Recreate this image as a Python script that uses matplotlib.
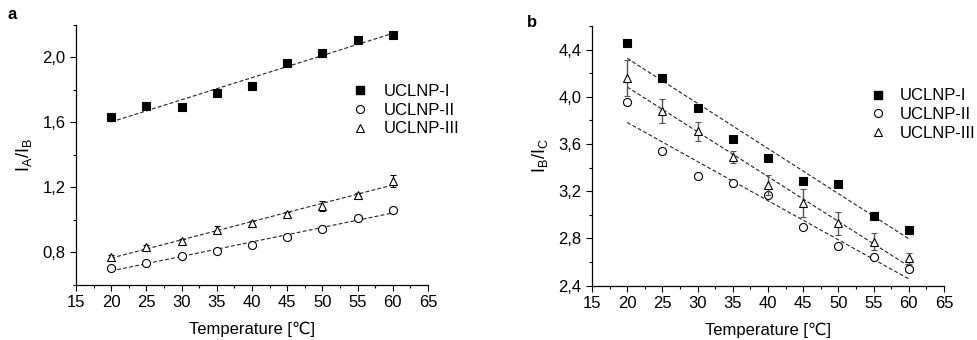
import numpy as np
import matplotlib
matplotlib.use("Agg")
import matplotlib.pyplot as plt
from matplotlib.ticker import MultipleLocator, FuncFormatter
from matplotlib.lines import Line2D

plt.rcParams['font.family'] = ['Liberation Sans', 'DejaVu Sans']
plt.rcParams['mathtext.fontset'] = 'custom'
plt.rcParams['mathtext.rm'] = 'Liberation Sans'
plt.rcParams['mathtext.it'] = 'Liberation Sans'

temps = [20, 25, 30, 35, 40, 45, 50, 55, 60]
labels = ['UCLNP-I', 'UCLNP-II', 'UCLNP-III']

a_I = [1.634, 1.704, 1.694, 1.784, 1.825, 1.967, 2.029, 2.107, 2.140]
a_II = [0.705, 0.734, 0.777, 0.810, 0.845, 0.897, 0.946, 1.012, 1.059]
a_III = [0.775, 0.831, 0.868, 0.940, 0.981, 1.037, 1.084, 1.156, 1.242]
a_III_err = [0.012, 0.015, 0.012, 0.020, 0.010, 0.010, 0.030, 0.010, 0.036]

b_I = [4.454, 4.158, 3.904, 3.645, 3.482, 3.287, 3.262, 2.994, 2.870]
b_II = [3.958, 3.538, 3.332, 3.273, 3.172, 2.893, 2.733, 2.640, 2.540]
b_III = [4.160, 3.879, 3.707, 3.490, 3.250, 3.100, 2.927, 2.772, 2.630]
b_III_err = [0.155, 0.105, 0.080, 0.050, 0.085, 0.117, 0.100, 0.070, 0.050]

fig = plt.figure(figsize=(9.78, 3.4), dpi=100)
axa = fig.add_axes([0.0777, 0.1618, 0.3599, 0.7647])
axb = fig.add_axes([0.6053, 0.160, 0.3599, 0.7635])

comma = FuncFormatter(lambda v, p: f"{v:.1f}".replace('.', ','))

def style(ax, ylim, ymaj, ylabel):
    ax.set_xlim(15, 65)
    ax.set_ylim(*ylim)
    ax.xaxis.set_major_locator(MultipleLocator(5))
    ax.xaxis.set_minor_locator(MultipleLocator(2.5))
    ax.yaxis.set_major_locator(MultipleLocator(ymaj))
    ax.yaxis.set_minor_locator(MultipleLocator(ymaj / 2))
    ax.yaxis.set_major_formatter(comma)
    for s in ['top', 'right']:
        ax.spines[s].set_visible(False)
    for s in ['left', 'bottom']:
        ax.spines[s].set_linewidth(0.9)
    ax.tick_params(which='major', direction='out', length=4, width=0.8, labelsize=12)
    ax.tick_params(which='minor', direction='out', length=2.5, width=0.8)
    ax.set_xlabel('Temperature [\u2103]', fontsize=12, labelpad=8)
    ax.set_ylabel(ylabel, fontsize=13, labelpad=6)

def fit(ax, y):
    t = np.array(temps, dtype=float)
    k, b = np.polyfit(t, y, 1)
    ax.plot(t, k * t + b, ls=(0, (3.5, 2)), color='#222222', lw=0.8, zorder=1)

mk = dict(markersize=5.8, markeredgewidth=0.8, ls='none', zorder=3)

def handles():
    return [Line2D([], [], marker='s', color='black', ls='none', markersize=5.8),
            Line2D([], [], marker='o', mfc='white', mec='black', ls='none',
                   markersize=5.8, markeredgewidth=0.8),
            Line2D([], [], marker='^', mfc='white', mec='black', ls='none',
                   markersize=6.2, markeredgewidth=0.8)]

# panel a
fit(axa, a_I); fit(axa, a_II); fit(axa, a_III)
axa.plot(temps, a_I, 's', color='black', **mk)
axa.plot(temps, a_II, 'o', mfc='white', mec='black', **mk)
axa.errorbar(temps, a_III, yerr=a_III_err, fmt='^', mfc='white', mec='black',
             ecolor='black', elinewidth=0.8, capsize=2.5, capthick=0.8,
             markersize=6.2, markeredgewidth=0.8, zorder=3)
style(axa, (0.6, 2.2), 0.4, r'$\mathrm{I_A/I_B}$')
axa.legend(handles(), labels, loc='upper left', bbox_to_anchor=(0.76, 0.805),
           frameon=False, fontsize=12, handlelength=1.0, handletextpad=0.9,
           labelspacing=0.22, borderpad=0, numpoints=1)

# panel b
fit(axb, b_I); fit(axb, b_II); fit(axb, b_III)
axb.plot(temps, b_I, 's', color='black', **mk)
axb.plot(temps, b_II, 'o', mfc='white', mec='black', **mk)
axb.errorbar(temps, b_III, yerr=b_III_err, fmt='^', mfc='white', mec='black',
             ecolor='#555555', elinewidth=1.0, capsize=2.5, capthick=0.8,
             markersize=6.2, markeredgewidth=0.8, zorder=3)
style(axb, (2.4, 4.6), 0.4, r'$\mathrm{I_B/I_C}$')
axb.legend(handles(), labels, loc='upper left', bbox_to_anchor=(0.765, 0.792),
           frameon=False, fontsize=12, handlelength=1.0, handletextpad=0.8,
           labelspacing=0.22, borderpad=0, numpoints=1)

fig.text(0.008, 0.945, 'a', fontsize=12, fontweight='bold')
fig.text(0.539, 0.92, 'b', fontsize=12, fontweight='bold')

fig.savefig('out.png', dpi=100)
